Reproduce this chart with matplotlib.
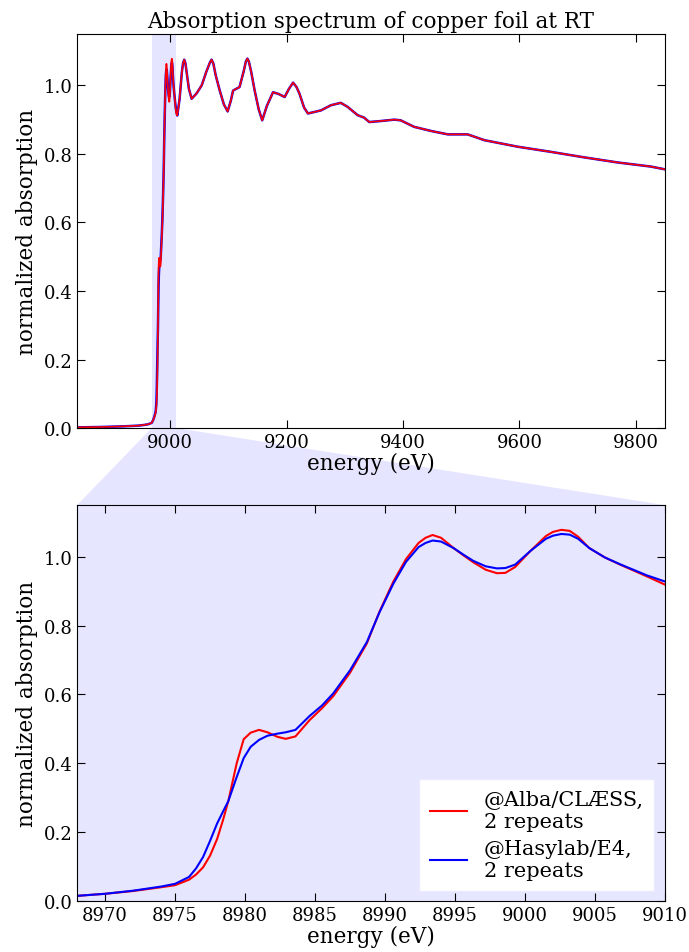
import matplotlib
matplotlib.use("Agg")
import matplotlib.pyplot as plt
import numpy as np
from matplotlib.patches import Polygon

# --- data --------------------------------------------------------------
zoom_range = (8968, 9010)

edge_energy = [
    8968, 8970, 8972, 8974, 8975, 8976, 8976.5, 8977, 8977.5, 8978,
    8978.4, 8978.8, 8979.4, 8979.9, 8980.4, 8981.0, 8981.6, 8982.3, 8982.9, 8983.6,
    8984.6, 8985.5, 8986.3, 8987.5, 8988.7, 8989.6, 8990.6, 8991.5, 8992.4, 8992.9,
    8993.4, 8994.0, 8994.9, 8995.6, 8996.3, 8997.2, 8998.0, 8998.6, 8999.3, 9000.4,
    9001.5, 9002.0, 9002.6, 9003.2, 9003.8, 9004.6, 9005.7, 9006.8, 9008.7, 9010,
]
alba_edge = [
    0.015, 0.021, 0.029, 0.040, 0.046, 0.062, 0.077, 0.098, 0.132, 0.180,
    0.232, 0.290, 0.400, 0.470, 0.489, 0.497, 0.490, 0.477, 0.471, 0.478,
    0.525, 0.560, 0.595, 0.663, 0.748, 0.840, 0.928, 0.993, 1.040, 1.055,
    1.063, 1.055, 1.025, 1.004, 0.984, 0.962, 0.952, 0.953, 0.970, 1.017,
    1.060, 1.072, 1.078, 1.075, 1.058, 1.025, 0.998, 0.977, 0.943, 0.919,
]
hasylab_edge = [
    0.015, 0.021, 0.030, 0.042, 0.050, 0.070, 0.095, 0.128, 0.175, 0.225,
    0.258, 0.290, 0.360, 0.415, 0.448, 0.468, 0.480, 0.486, 0.490, 0.497,
    0.537, 0.568, 0.603, 0.670, 0.752, 0.838, 0.922, 0.985, 1.028, 1.040,
    1.047, 1.044, 1.025, 1.006, 0.988, 0.972, 0.966, 0.967, 0.977, 1.017,
    1.052, 1.061, 1.066, 1.064, 1.052, 1.025, 0.998, 0.978, 0.946, 0.928,
]

pre_energy = [8840, 8880, 8920, 8945, 8955, 8962]
pre_mu = [0.002, 0.003, 0.005, 0.007, 0.009, 0.011]

post_energy = [
    9012, 9016, 9020, 9022, 9024, 9026, 9028, 9032, 9036.7, 9045,
    9054, 9062, 9068, 9071, 9074, 9078, 9085, 9092, 9098.6, 9104,
    9108, 9119, 9126, 9130, 9132.6, 9135, 9139, 9145, 9152, 9158,
    9166, 9176.6, 9186, 9196.6, 9204, 9211, 9217, 9222, 9230, 9236.6,
    9259, 9276, 9293, 9305, 9322, 9333, 9342, 9362, 9385, 9396,
    9419, 9448, 9477, 9511, 9540, 9597, 9654, 9711, 9769, 9826, 9850,
]
post_mu = [
    0.912, 0.960, 1.040, 1.065, 1.075, 1.065, 1.040, 0.990, 0.961, 0.976,
    1.000, 1.040, 1.066, 1.075, 1.064, 1.030, 0.985, 0.945, 0.924, 0.955,
    0.985, 0.995, 1.040, 1.070, 1.078, 1.070, 1.040, 0.985, 0.930, 0.898,
    0.940, 0.980, 0.975, 0.966, 0.990, 1.008, 0.995, 0.976, 0.935, 0.918,
    0.927, 0.942, 0.949, 0.937, 0.913, 0.906, 0.893, 0.896, 0.900, 0.898,
    0.879, 0.867, 0.857, 0.857, 0.840, 0.821, 0.806, 0.790, 0.775, 0.763, 0.755,
]

labels = ["@Alba/CLÆSS,\n2 repeats", "@Hasylab/E4,\n2 repeats"]
colors = ["r", "b"]
ylim = (0, 1.15)
yticks = [0.0, 0.2, 0.4, 0.6, 0.8, 1.0]
shade = (0, 0, 1, 0.1)

plt.rcParams["font.family"] = ["DejaVu Serif"]
plt.rcParams["font.size"] = 13


def _style(ax):
    ax.tick_params(direction="in", top=True, right=True, length=6, labelsize=13)
    ax.set_ylim(*ylim)
    ax.set_yticks(yticks)
    ax.set_ylabel("normalized absorption", fontsize=15.5, labelpad=4)
    ax.set_xlabel("energy (eV)", fontsize=15.5, labelpad=1)


def main():
    fig = plt.figure(figsize=(6.89, 9.53), dpi=100)
    ax1 = fig.add_axes([0.112, 0.5498, 0.853, 0.4135])
    ax2 = fig.add_axes([0.112, 0.0535, 0.853, 0.4155], facecolor=(230 / 255, 230 / 255, 1.0))

    full_e = pre_energy + edge_energy + post_energy
    ax1.plot(full_e, pre_mu + hasylab_edge + post_mu, color="b", lw=1.8)
    ax1.plot(full_e, pre_mu + alba_edge + post_mu, color="r", lw=1.2)
    ax1.axvspan(*zoom_range, color=shade, lw=0)
    ax1.set_xlim(8840, 9850)
    ax1.set_xticks([9000, 9200, 9400, 9600, 9800])
    ax1.set_title("Absorption spectrum of copper foil at RT", fontsize=15.5, pad=5)
    _style(ax1)

    for mu, lab, col in zip([alba_edge, hasylab_edge], labels, colors):
        ax2.plot(edge_energy, mu, color=col, lw=1.5, label=lab)
    ax2.set_xlim(*zoom_range)
    ax2.set_xticks(np.arange(8970, 9011, 5))
    _style(ax2)
    leg = ax2.legend(loc="lower right", fontsize=15, handlelength=1.8, borderpad=0.5,
                     labelspacing=0.4, fancybox=False, framealpha=1)
    leg.get_frame().set_edgecolor((0.92, 0.92, 1.0))

    # connector between the shaded band and the zoomed axes
    to_fig = fig.transFigure.inverted()
    p1 = to_fig.transform(ax1.transData.transform((zoom_range[0], 0)))
    p2 = to_fig.transform(ax1.transData.transform((zoom_range[1], 0)))
    p3 = to_fig.transform(ax2.transAxes.transform((1, 1)))
    p4 = to_fig.transform(ax2.transAxes.transform((0, 1)))
    poly = Polygon([p1, p2, p3, p4], closed=True, transform=fig.transFigure,
                   facecolor=shade, edgecolor="none", zorder=-1)
    fig.patches.append(poly)

    fig.savefig("out.png", dpi=100)
    plt.close(fig)


if __name__ == "__main__":
    main()
